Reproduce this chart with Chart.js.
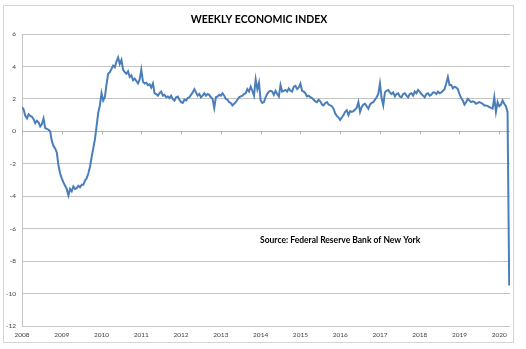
<!DOCTYPE html>
<html>
<head>
<meta charset="utf-8">
<title>Weekly Economic Index</title>
<script src="https://cdn.jsdelivr.net/npm/chart.js@4.4.1/dist/chart.umd.min.js"></script>
<style>
    html, body { margin: 0; padding: 0; background: #fff; }
    canvas { display: block; }
</style>
</head>
<body>
<canvas id="wei-chart" width="526" height="349"></canvas>
<script>
// weekly economic index, two readings per month

const START_YEAR = 2008;
const READINGS_PER_YEAR = 24;

const weiValues = [
    // 2008
    1.5, 1.35, 0.95, 0.8, 1.05, 0.95, 0.9, 0.75, 0.5, 0.65, 0.55, 0.3,
    0.45, 0.8, 0.2, 0.15, 0.1, 0.0, -0.6, -0.9, -1.05, -1.3, -2.1, -2.6,
    // 2009
    -2.9, -3.15, -3.35, -3.55, -3.95, -3.55, -3.7, -3.4, -3.55, -3.5, -3.35, -3.45,
    -3.3, -3.3, -3.05, -2.9, -2.6, -2.2, -1.6, -1.05, -0.5, 0.3, 1.15, 1.6,
    // 2010
    2.35, 1.9, 2.1, 2.9, 3.55, 3.65, 3.85, 4.05, 3.95, 4.3, 4.55, 4.15,
    4.4, 3.8, 3.65, 3.55, 3.7, 3.35, 3.45, 3.15, 3.25, 3.1, 2.95, 3.2,
    // 2011
    3.8, 3.05, 2.95, 3.0, 2.85, 2.9, 2.7, 2.95, 2.35, 2.3, 2.2, 2.35,
    2.45, 2.2, 2.25, 2.1, 2.15, 2.05, 2.2, 2.0, 1.9, 2.1, 2.15, 1.95,
    // 2012
    1.8, 1.75, 1.95, 1.9, 2.05, 2.1, 2.25, 2.4, 2.6, 2.4, 2.2, 2.3,
    2.1, 2.2, 2.35, 2.2, 2.3, 2.25, 2.1, 2.0, 1.45, 2.1, 2.15, 2.25,
    // 2013
    2.2, 2.35, 2.2, 2.0, 1.95, 1.8, 1.75, 1.6, 1.7, 1.8, 1.95, 2.1,
    2.15, 2.2, 2.3, 2.35, 2.6, 2.45, 2.75, 2.5, 2.2, 3.2, 2.6, 3.0,
    // 2014
    1.9, 1.75, 1.8, 2.1, 2.3, 2.45, 2.5, 2.45, 2.25, 2.5, 2.3, 2.15,
    2.85, 2.45, 2.5, 2.55, 2.45, 2.65, 2.5, 2.45, 2.75, 2.8, 2.6, 2.7,
    // 2015
    2.95, 2.5, 2.45, 2.35, 2.15, 2.2, 2.1, 2.05, 1.95, 1.85, 1.8, 1.95,
    1.85, 1.65, 1.6, 1.75, 1.8, 1.65, 1.6, 1.55, 1.4, 1.1, 0.95, 0.85,
    // 2016
    0.7, 0.85, 1.0, 1.2, 1.3, 1.0, 1.25, 1.2, 1.25, 1.35, 1.45, 1.8,
    1.2, 1.5, 1.65, 1.7, 1.55, 1.4, 1.65, 1.75, 1.8, 1.95, 2.1, 2.3,
    // 2017
    2.95, 2.05, 1.6, 2.4, 2.5, 2.55, 2.4, 2.3, 2.4, 2.15, 2.3, 2.35,
    2.15, 2.1, 2.3, 2.35, 2.2, 2.1, 2.3, 2.35, 2.2, 2.45, 2.35, 2.55,
    // 2018
    2.45, 2.3, 2.2, 2.1, 2.3, 2.35, 2.2, 2.25, 2.4, 2.4, 2.3, 2.45,
    2.35, 2.4, 2.5, 2.6, 2.95, 3.35, 2.85, 2.85, 2.65, 2.75, 2.7, 2.6,
    // 2019
    2.3, 2.05, 1.9, 1.65, 1.8, 2.0, 1.9, 1.8, 1.85, 1.8, 1.7, 1.75,
    1.8, 1.75, 1.7, 1.6, 1.6, 1.55, 1.5, 1.45, 1.4, 2.1, 1.2, 1.8,
    // 2020 (to early april)
    1.55, 1.65, 1.9, 1.7, 1.55, 1.2, -9.5
];

const yearTicks = [2008, 2009, 2010, 2011, 2012, 2013, 2014, 2015, 2016, 2017, 2018, 2019, 2020];
const Y_MIN = -12;
const Y_MAX = 6;
const Y_STEP = 2;
const X_MAX = 2020.27;

const TITLE = 'WEEKLY ECONOMIC INDEX';
const SOURCE_NOTE = 'Source: Federal Reserve Bank of New York';
const SOURCE_AT = { x: 2016.0, y: -6.7 }; // in data units

const FONT = 'Lato, "Open Sans", "Liberation Sans", sans-serif';
const GRID = '#c4c4c4';
const LABEL = '#404040';

// frame + white background, like the excel chart box
const chartFrame = {
    id: 'chartFrame',
    beforeDraw(chart) {
        const ctx = chart.ctx;
        ctx.save();
        ctx.fillStyle = '#fff';
        ctx.fillRect(0, 0, chart.width, chart.height);
        ctx.strokeStyle = '#d4d4d4';
        ctx.lineWidth = 1;
        ctx.strokeRect(3.5, 5.5, 510, 337);
        ctx.restore();
    }
};

// excel draws the category axis where y = 0, with small ticks under it
const zeroAxis = {
    id: 'zeroAxis',
    beforeDatasetsDraw(chart) {
        const { ctx, chartArea, scales } = chart;
        const y0 = Math.round(scales.y.getPixelForValue(0)) + 0.5;
        ctx.save();
        ctx.strokeStyle = '#b4b4b4';
        ctx.lineWidth = 1;
        ctx.beginPath();
        ctx.moveTo(chartArea.left, y0);
        ctx.lineTo(chartArea.right, y0);
        yearTicks.forEach(yr => {
            const x = Math.round(scales.x.getPixelForValue(yr)) + 0.5;
            ctx.moveTo(x, y0);
            ctx.lineTo(x, y0 + 3);
        });
        ctx.stroke();
        ctx.restore();
    }
};

// title and source note
const chartText = {
    id: 'chartText',
    afterDraw(chart) {
        const { ctx, scales } = chart;
        ctx.save();
        ctx.fillStyle = '#000';
        ctx.textAlign = 'center';
        ctx.textBaseline = 'middle';
        ctx.font = 'bold 10.5px ' + FONT;
        ctx.fillText(TITLE, 259, 19.5);
        ctx.font = 'bold 8.5px ' + FONT;
        ctx.fillText(SOURCE_NOTE, scales.x.getPixelForValue(SOURCE_AT.x), scales.y.getPixelForValue(SOURCE_AT.y));
        ctx.restore();
    }
};

function initChart() {
    const points = weiValues.map((v, i) => ({ x: START_YEAR + i / READINGS_PER_YEAR, y: v }));
    const ctx = document.getElementById('wei-chart').getContext('2d');

    new Chart(ctx, {
        type: 'line',
        data: {
            datasets: [{
                label: 'WEI',
                data: points,
                borderColor: '#4a7ebb',
                borderWidth: 2,
                pointRadius: 0,
                tension: 0,
                fill: false
            }]
        },
        options: {
            responsive: false,
            animation: false,
            layout: { padding: { top: 34, right: 16, left: 0, bottom: 0 } },
            plugins: {
                legend: { display: false },
                title: { display: false },
                tooltip: { enabled: false }
            },
            scales: {
                x: {
                    type: 'linear',
                    min: START_YEAR,
                    max: X_MAX,
                    afterBuildTicks: scale => { scale.ticks = yearTicks.map(v => ({ value: v })); },
                    afterFit: scale => { scale.height = 23; },
                    grid: { display: false, drawTicks: false },
                    border: { display: false },
                    ticks: {
                        color: LABEL,
                        font: { family: FONT, size: 6.5 },
                        padding: 5,
                        maxRotation: 0,
                        autoSkip: false,
                        callback: v => String(v)
                    }
                },
                y: {
                    min: Y_MIN,
                    max: Y_MAX,
                    afterFit: scale => { scale.width = 22; },
                    grid: { color: GRID, drawTicks: false },
                    border: { display: true, color: GRID },
                    ticks: {
                        stepSize: Y_STEP,
                        color: LABEL,
                        font: { family: FONT, size: 6.5 },
                        padding: 6,
                        callback: v => String(v)
                    }
                }
            }
        },
        plugins: [chartFrame, zeroAxis, chartText]
    });
}

document.addEventListener('DOMContentLoaded', initChart);
</script>
</body>
</html>
